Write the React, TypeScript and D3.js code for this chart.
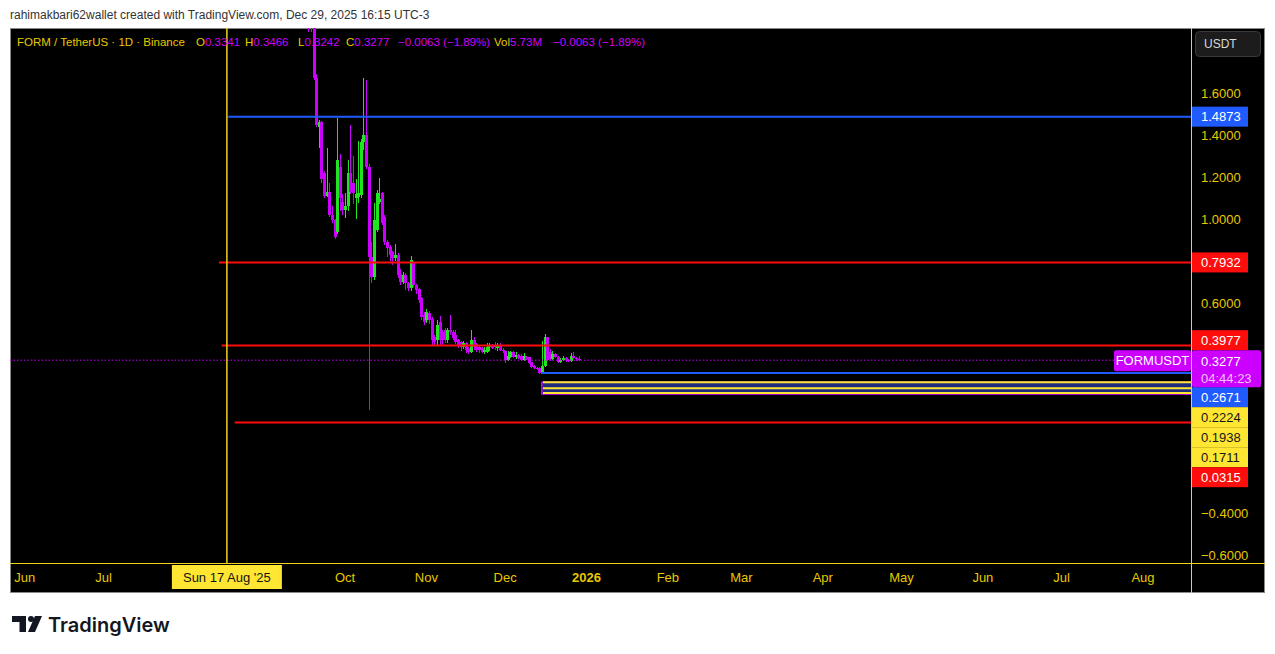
import React from "react";
import * as d3 from "d3";

// ---------- data ----------
const firstCandleDay = "2025-09-17";
const opens = [
  2.05, 2.0, 1.95, 1.67, 1.44, 1.46, 1.22, 1.11, 1.13, 1.02, 0.995, 0.938, 1.25, 1.08,
  1.043, 1.06, 1.219, 1.17, 1.1, 1.105, 1.114, 1.367, 1.4, 1.248, 0.82, 0.724, 0.948, 1.081,
  1.124, 1.01, 0.89, 0.867, 0.843, 0.814, 0.829, 0.74, 0.7, 0.733, 0.695, 0.671, 0.795, 0.686,
  0.665, 0.624, 0.543, 0.519, 0.552, 0.524, 0.438, 0.424, 0.51, 0.462, 0.471, 0.424, 0.471, 0.462,
  0.448, 0.424, 0.414, 0.39, 0.41, 0.386, 0.367, 0.424, 0.405, 0.39, 0.386, 0.367, 0.367, 0.39,
  0.4, 0.4, 0.386, 0.4, 0.378, 0.37, 0.329, 0.345, 0.365, 0.343, 0.352, 0.35, 0.33, 0.345,
  0.343, 0.318, 0.302, 0.292, 0.29, 0.267, 0.3, 0.438, 0.365, 0.335, 0.355, 0.345, 0.32, 0.33,
  0.34, 0.33, 0.322, 0.347, 0.34, 0.3341,
];
const highs = [
  2.2, 2.1, 2.0, 1.69, 1.47, 1.465, 1.23, 1.34, 1.17, 1.06, 1.0, 1.48, 1.31, 1.12,
  1.124, 1.28, 1.448, 1.3, 1.19, 1.37, 1.38, 1.67, 1.66, 1.26, 0.89, 1.076, 1.14, 1.195,
  1.13, 1.02, 0.9, 0.875, 0.85, 0.88, 0.84, 0.76, 0.75, 0.745, 0.7, 0.824, 0.8, 0.69,
  0.67, 0.63, 0.557, 0.57, 0.56, 0.533, 0.45, 0.52, 0.54, 0.47, 0.48, 0.48, 0.543, 0.47,
  0.47, 0.43, 0.42, 0.42, 0.415, 0.39, 0.471, 0.44, 0.41, 0.4, 0.39, 0.39, 0.41, 0.41,
  0.405, 0.415, 0.41, 0.41, 0.385, 0.372, 0.37, 0.372, 0.37, 0.367, 0.356, 0.355, 0.362, 0.35,
  0.345, 0.32, 0.305, 0.295, 0.293, 0.42, 0.452, 0.44, 0.38, 0.37, 0.36, 0.35, 0.34, 0.35,
  0.345, 0.335, 0.36, 0.365, 0.345, 0.3466,
];
const lows = [
  1.89, 1.89, 1.66, 1.44, 1.34, 1.17, 1.1, 1.105, 1.01, 0.98, 0.905, 0.93, 1.04, 1.02,
  1.005, 1.04, 1.12, 1.07, 1.0, 1.076, 1.1, 1.33, 1.24, 0.09, 0.695, 0.71, 0.94, 1.07,
  0.97, 0.875, 0.82, 0.8, 0.78, 0.8, 0.72, 0.686, 0.69, 0.66, 0.655, 0.655, 0.675, 0.645,
  0.6, 0.52, 0.495, 0.505, 0.5, 0.4, 0.4, 0.4, 0.4, 0.395, 0.41, 0.41, 0.45, 0.425,
  0.405, 0.385, 0.37, 0.38, 0.36, 0.355, 0.36, 0.375, 0.365, 0.36, 0.36, 0.355, 0.36, 0.37,
  0.38, 0.375, 0.37, 0.37, 0.36, 0.314, 0.325, 0.34, 0.338, 0.335, 0.335, 0.325, 0.325, 0.33,
  0.31, 0.292, 0.284, 0.28, 0.262, 0.262, 0.295, 0.325, 0.325, 0.33, 0.34, 0.315, 0.315, 0.325,
  0.32, 0.318, 0.318, 0.335, 0.325, 0.3242,
];
const closes = [
  2.0, 1.95, 1.67, 1.45, 1.46, 1.19, 1.11, 1.13, 1.02, 0.995, 0.915, 1.28, 1.1, 1.043,
  1.06, 1.219, 1.129, 1.124, 1.12, 1.124, 1.367, 1.4, 1.248, 0.82, 0.724, 0.995, 1.124, 1.095,
  0.981, 0.89, 0.862, 0.829, 0.814, 0.829, 0.733, 0.7, 0.733, 0.695, 0.671, 0.805, 0.686, 0.662,
  0.614, 0.533, 0.51, 0.557, 0.519, 0.424, 0.414, 0.495, 0.424, 0.424, 0.424, 0.471, 0.46, 0.433,
  0.414, 0.4, 0.39, 0.41, 0.376, 0.367, 0.424, 0.39, 0.376, 0.376, 0.367, 0.376, 0.39, 0.4,
  0.386, 0.39, 0.4, 0.376, 0.37, 0.329, 0.348, 0.367, 0.343, 0.352, 0.34, 0.33, 0.348, 0.335,
  0.315, 0.297, 0.29, 0.286, 0.268, 0.3, 0.438, 0.33, 0.335, 0.355, 0.345, 0.32, 0.33, 0.34,
  0.328, 0.322, 0.347, 0.34, 0.334, 0.3277,
];

const priceTicks = [1.6, 1.4, 1.2, 1.0, 0.8, 0.6, 0.4, 0.2, 0.0, -0.2, -0.4, -0.6];

// horizontal drawn levels
const levelPrices = [1.4873, 0.7932, 0.3977, 0.0315, 0.2671];
const levelStarts = ["2025-08-17T12:00:00Z", "2025-08-14T00:00:00Z", "2025-08-15T00:00:00Z", "2025-08-20T00:00:00Z", "2025-12-14T16:00:00Z"];
const levelKinds = ["blue", "red", "red", "red", "blue"];

// the yellow / navy zone
const zoneStart = "2025-12-14T16:00:00Z";
const zoneLevels = [0.2224, 0.1938, 0.1711];
const zoneBottom = 0.1665;

// price-axis labels
const axisLabelPrices = [1.4873, 0.7932, 0.3977, 0.2671, 0.2224, 0.1938, 0.1711, 0.0315];
const axisLabelKinds = ["blue", "red", "red", "blue", "yellow", "yellow", "yellow", "red"];
const countdown = "04:44:23";
const symbol = "FORMUSDT";

const crosshairDay = "2025-08-17T00:00:00Z";
const crosshairLabel = "Sun 17 Aug '25";

const headerText = "rahimakbari62wallet created with TradingView.com, Dec 29, 2025 16:15 UTC-3";
const legendTitle = "FORM / TetherUS · 1D · Binance";
const legendChange = "−0.0063 (−1.89%)";
const legendVolume = "5.73M";

// ---------- styles ----------
const COL = {
  up: "#1fe61f",
  down: "#cc00ff",
  red: "#ff0d0d",
  blue: "#1f5bff",
  yellowText: "#e8c800",
  yellowBox: "#ffe633",
  navy: "#1d2c7c",
};
const FONT = "'Liberation Sans', Arial, sans-serif";

export default function App() {
  const L = 10, R = 1191, T = 28, B = 563, AR = 1265, FB = 593;

  const x = d3
    .scaleUtc()
    .domain([new Date(Date.UTC(2025, 9, 1)), new Date(Date.UTC(2026, 7, 1))])
    .range([345, 1143]);
  const y = d3.scaleLinear().domain([-0.6, 1.6]).range([555, 93]);

  const start = new Date(firstCandleDay + "T00:00:00Z");
  const candles = opens.map((o, i) => ({
    date: d3.utcDay.offset(start, i),
    o,
    h: highs[i],
    l: lows[i],
    c: closes[i],
  }));

  const fmtPrice = (v: number) => (v < 0 ? "−" + Math.abs(v).toFixed(4) : v.toFixed(4));

  // month ticks
  const crossX = x(new Date(crosshairDay));
  const months = d3.utcMonth
    .range(new Date(Date.UTC(2025, 5, 1)), new Date(Date.UTC(2026, 8, 1)))
    .filter((d) => Math.abs(x(d) - crossX) > 62);
  const monthFmt = d3.utcFormat("%b");

  // price axis label stacking
  const cur = closes[closes.length - 1];
  const curY = y(cur);
  const curTop = curY - 10;
  const curBot = curY + 27;
  type Lab = { p: number; kind: string; top: number };
  const labs: Lab[] = axisLabelPrices.map((p, i) => ({ p, kind: axisLabelKinds[i], top: 0 }));
  let limit = curTop;
  labs
    .filter((l) => l.p > cur)
    .sort((a, b) => a.p - b.p)
    .forEach((l) => {
      const bot = Math.min(y(l.p) + 10, limit);
      l.top = bot - 20;
      limit = l.top;
    });
  limit = curBot;
  labs
    .filter((l) => l.p < cur)
    .sort((a, b) => b.p - a.p)
    .forEach((l) => {
      const top = Math.max(y(l.p) - 10, limit);
      l.top = top;
      limit = top + 20;
    });
  const labBg = (k: string) => (k === "blue" ? COL.blue : k === "red" ? COL.red : COL.yellowBox);
  const labFg = (k: string) => (k === "yellow" ? "#161616" : "#ffffff");

  // tick labels hidden behind the price labels (as in the platform)
  const boxes = labs.map((l) => [l.top, l.top + 20]).concat([[curTop, curBot]]);
  const visibleTicks = priceTicks.filter((p) => {
    const ty = y(p);
    return !boxes.some(([a, b]) => ty + 7 > a && ty - 7 < b);
  });

  const zoneX = x(new Date(zoneStart));

  return (
    <svg
      width={1275}
      height={654}
      style={{ position: "absolute", left: 0, top: 0, background: "#ffffff" }}
      fontFamily={FONT}
    >
      <defs>
        <clipPath id="plot">
          <rect x={L} y={T} width={R - L} height={B - T} />
        </clipPath>
      </defs>

      {/* header */}
      <text x={10} y={19} fontSize={12} fill="#333">
        {headerText}
      </text>

      {/* chart frame */}
      <rect x={L} y={T} width={AR - L} height={FB - T} fill="#000" />
      <rect x={L + 0.5} y={T + 0.5} width={AR - L - 1} height={FB - T - 1} fill="none" stroke="#8a8a8a" />

      {/* candles */}
      <g clipPath="url(#plot)" shapeRendering="crispEdges">
        {candles.map((d, i) => {
          const cx = Math.round(x(d.date));
          const col = d.c >= d.o ? COL.up : COL.down;
          const yt = y(Math.max(d.o, d.c));
          const yb = y(Math.min(d.o, d.c));
          return (
            <g key={i} fill={col}>
              <rect x={cx} y={y(d.h)} width={1} height={Math.max(1, y(d.l) - y(d.h))} />
              <rect x={cx - 1} y={yt} width={2.5} height={Math.max(1.5, yb - yt)} />
            </g>
          );
        })}
      </g>

      {/* current price dotted line */}
      <line x1={L} x2={1114} y1={curY} y2={curY} stroke={COL.down} strokeWidth={1} strokeDasharray="1.5 2" />

      {/* zone */}
      <g clipPath="url(#plot)">
        <rect x={zoneX} y={y(zoneLevels[0])} width={R - zoneX} height={y(zoneLevels[2]) - y(zoneLevels[0])} fill={COL.navy} />
        <rect
          x={zoneX + 0.75}
          y={y(zoneLevels[0])}
          width={R - zoneX}
          height={y(zoneBottom) - y(zoneLevels[0])}
          fill="none"
          stroke={COL.down}
          strokeWidth={1.5}
        />
        {zoneLevels.map((p, i) => (
          <line key={i} x1={zoneX + 2} x2={R} y1={y(p)} y2={y(p)} stroke={COL.yellowBox} strokeWidth={2} />
        ))}
      </g>

      {/* horizontal levels */}
      {levelPrices.map((p, i) => (
        <line
          key={i}
          x1={x(new Date(levelStarts[i]))}
          x2={R}
          y1={y(p)}
          y2={y(p)}
          stroke={levelKinds[i] === "blue" ? COL.blue : COL.red}
          strokeWidth={2}
        />
      ))}

      {/* crosshair vertical */}
      <line x1={crossX} x2={crossX} y1={T} y2={B} stroke="#f2d21b" strokeWidth={1.5} />

      {/* legend */}
      <g fontSize={11.5} fill={COL.yellowText}>
        <text x={17} y={46}>{legendTitle}</text>
        <text x={196} y={46}>O<tspan fill={COL.down}>{opens[opens.length - 1].toFixed(4)}</tspan></text>
        <text x={245} y={46}>H<tspan fill={COL.down}>{highs[highs.length - 1].toFixed(4)}</tspan></text>
        <text x={298} y={46}>L<tspan fill={COL.down}>{lows[lows.length - 1].toFixed(4)}</tspan></text>
        <text x={346} y={46}>C<tspan fill={COL.down}>{closes[closes.length - 1].toFixed(4)}</tspan></text>
        <text x={398} y={46} fill={COL.down}>{legendChange}</text>
        <text x={494} y={46}>Vol<tspan fill={COL.down}>{legendVolume}</tspan></text>
        <text x={553} y={46} fill={COL.down}>{legendChange}</text>
      </g>

      {/* separators */}
      <line x1={L} x2={AR} y1={B + 0.5} y2={B + 0.5} stroke="#f2d21b" strokeWidth={1} />
      <line x1={R + 0.5} x2={R + 0.5} y1={T} y2={FB} stroke="#f2d21b" strokeWidth={1} />

      {/* time axis */}
      <g fontSize={13} textAnchor="middle">
        {months.map((d, i) => {
          const isYear = d.getUTCMonth() === 0;
          return (
            <text key={i} x={x(d)} y={582} fill={COL.yellowText} fontWeight={isYear ? "bold" : "normal"}>
              {isYear ? d3.utcFormat("%Y")(d) : monthFmt(d)}
            </text>
          );
        })}
        <rect x={crossX - 55} y={565} width={110} height={24} fill={COL.yellowBox} />
        <text x={crossX} y={582} fill="#131313">{crosshairLabel}</text>
      </g>

      {/* price axis ticks */}
      <g fontSize={13} fill={COL.yellowText}>
        {visibleTicks.map((p, i) => (
          <text key={i} x={1201} y={y(p)} dy="0.36em">
            {fmtPrice(p)}
          </text>
        ))}
      </g>

      {/* USDT button */}
      <rect x={1195.5} y={31.5} width={65} height={25} rx={4} fill="#1c1c1c" stroke="#3a3a3a" />
      <text x={1204} y={44} dy="0.36em" fontSize={12} fill="#d8d8d8">USDT</text>

      {/* price labels */}
      <g fontSize={13}>
        {labs.map((l, i) => (
          <g key={i}>
            <rect x={1192} y={l.top} width={56} height={20} fill={labBg(l.kind)} />
            <text x={1201} y={l.top + 10} dy="0.36em" fill={labFg(l.kind)}>
              {l.p.toFixed(4)}
            </text>
          </g>
        ))}
        <rect x={1192} y={curTop} width={69} height={curBot - curTop} rx={2} fill={COL.down} />
        <text x={1201} y={curY + 1} dy="0.36em" fill="#fff">{cur.toFixed(4)}</text>
        <text x={1201} y={curY + 18} dy="0.36em" fill="#f1c4ff">{countdown}</text>
        <rect x={1114} y={curTop} width={77} height={21} rx={2} fill={COL.down} />
        <text x={1152.5} y={curTop + 10.5} dy="0.36em" fill="#fff" textAnchor="middle">{symbol}</text>
      </g>

      {/* TradingView logo */}
      <g fill="#131722">
        <path d="M12 616 H26 V632 H19.5 V622 H12 Z" />
        <circle cx={31} cy={619} r={3} />
        <path d="M35 616 H42 L35 632 H28 Z" />
        <text x={48} y={632} fontSize={20} fontWeight={600} fontFamily="Inter, 'Liberation Sans', sans-serif">
          TradingView
        </text>
      </g>
    </svg>
  );
}
